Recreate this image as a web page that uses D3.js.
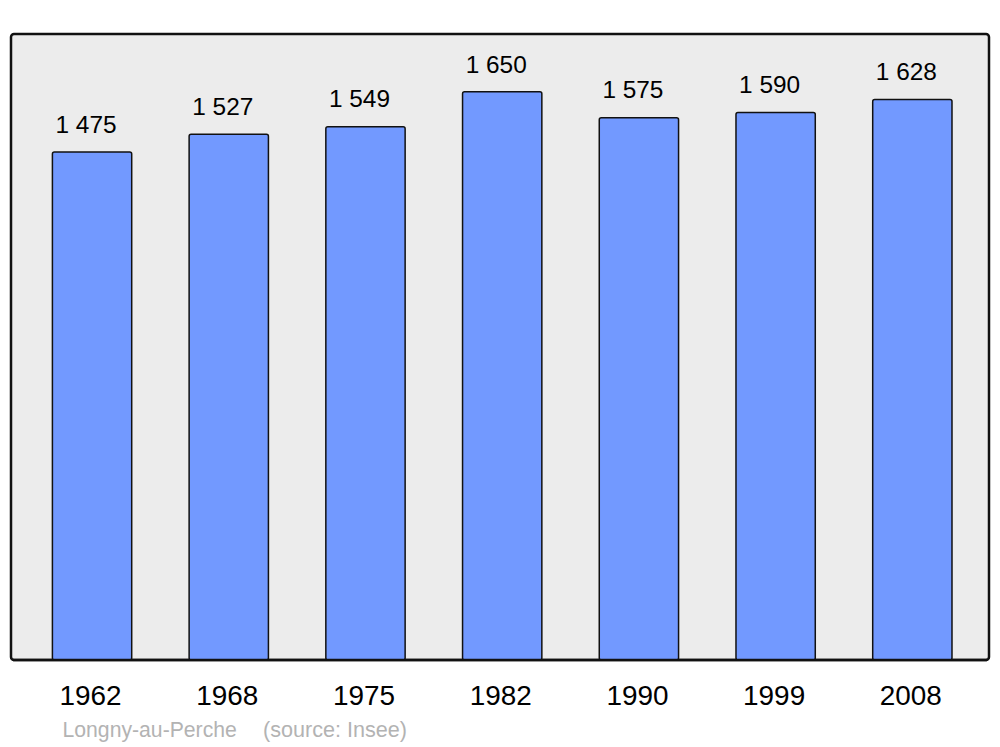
<!DOCTYPE html>
<html><head><meta charset="utf-8">
<script src="https://cdn.jsdelivr.net/npm/d3@7"></script>
<style>body{margin:0;background:#fff;}svg{display:block;font-family:"Liberation Sans",Arial,sans-serif;}</style>
</head><body>
<script>
const years = ["1962","1968","1975","1982","1990","1999","2008"];
const population = [1475,1527,1549,1650,1575,1590,1628];
const commune = "Longny-au-Perche";
const source = "(source: Insee)";

const W=1000,H=747;
const svg=d3.select("body").append("svg").attr("width",W).attr("height",H);
const panel={x0:11,y0:34,x1:989,y1:660};
svg.append("rect").attr("x",panel.x0).attr("y",panel.y0)
  .attr("width",panel.x1-panel.x0).attr("height",panel.y1-panel.y0)
  .attr("rx",3).attr("fill","#ececec").attr("stroke","#111").attr("stroke-width",2.5);

const x=d3.scaleBand().domain(years).range([23.7,980.7]).paddingInner(0.42).paddingOuter(0.21);
const y=d3.scaleLinear().domain([0,1818]).range([panel.y1,panel.y0]);
const fmt=v=>{const s=String(v);return s.length>3?s.slice(0,s.length-3)+" "+s.slice(-3):s;};

const g=svg.append("g");
g.selectAll("rect.bar").data(years).join("rect").attr("class","bar")
  .attr("x",d=>x(d)).attr("width",x.bandwidth())
  .attr("y",(d,i)=>y(population[i])).attr("height",(d,i)=>panel.y1-y(population[i]))
  .attr("rx",2).attr("fill","#7299ff").attr("stroke","#111").attr("stroke-width",1.5);

svg.append("line").attr("x1",panel.x0+2).attr("x2",panel.x1-2).attr("y1",panel.y1).attr("y2",panel.y1)
  .attr("stroke","#111").attr("stroke-width",2.5);

g.selectAll("text.val").data(years).join("text").attr("class","val")
  .attr("x",d=>x(d)+x.bandwidth()/2-6).attr("y",(d,i)=>y(population[i])-19.3)
  .attr("text-anchor","middle").attr("font-size",24.4).attr("fill","#000")
  .text((d,i)=>fmt(population[i]));

g.selectAll("text.yr").data(years).join("text").attr("class","yr")
  .attr("x",d=>x(d)+x.bandwidth()/2-1.5).attr("y",705)
  .attr("text-anchor","middle").attr("font-size",27.9).attr("fill","#000").text(d=>d);

svg.append("text").attr("x",62.5).attr("y",737).attr("font-size",21.2).attr("fill","#b3b3b3").text(commune);
svg.append("text").attr("x",263).attr("y",737).attr("font-size",21.6).attr("fill","#b3b3b3").text(source);
</script>
</body></html>
